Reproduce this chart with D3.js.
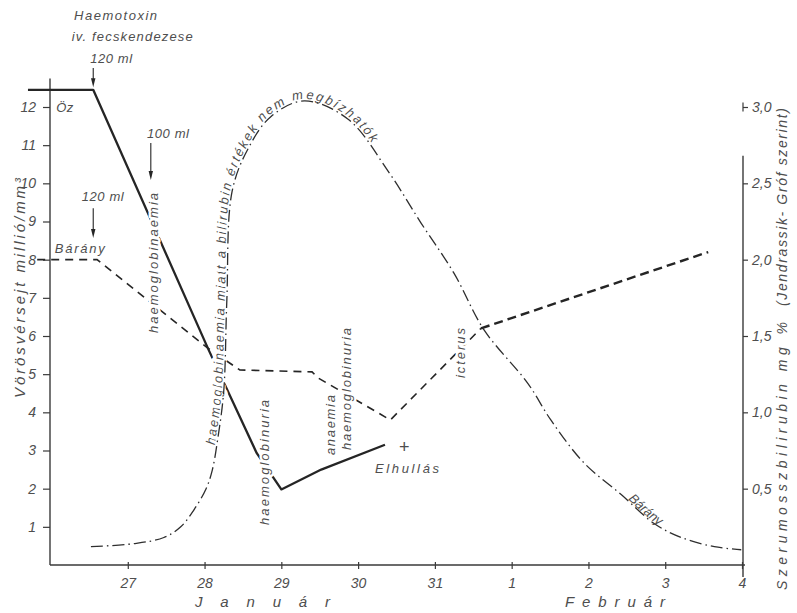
<!DOCTYPE html>
<html>
<head>
<meta charset="utf-8">
<script src="https://cdn.jsdelivr.net/npm/d3@7"></script>
<style>
  html, body { margin: 0; padding: 0; background: #fff; }
  svg { display: block; }
</style>
</head>
<body>
<svg id="chart" width="797" height="613"></svg>
<script>
// Day axis: 27..31 are January days, 32..35 stand for February 1..4
const dayTicks = [27, 28, 29, 30, 31, 32, 33, 34, 35];
const dayTickLabels = ["27", "28", "29", "30", "31", "1", "2", "3", "4"];

// Left axis: red blood cells (million / mm³)
const rbcTicks = [1, 2, 3, 4, 5, 6, 7, 8, 9, 10, 11, 12];

// Right axis: serum total bilirubin (mg %)
const biliTicks = [0.5, 1.0, 1.5, 2.0, 2.5, 3.0];
const biliTickLabels = ["0,5", "1,0", "1,5", "2,0", "2,5", "3,0"];

// Őz (roe deer) red cell count
const ozDays = [25.70, 26.55, 28.05, 28.68, 29.00, 29.52, 30.35];
const ozRbc  = [12.45, 12.45, 5.65, 2.93, 1.98, 2.50, 3.15];

// Bárány (sheep) red cell count
const baranyDays = [25.82, 26.60, 28.03, 28.46, 29.40, 29.48, 30.42, 31.60];
const baranyRbc  = [8.00, 8.00, 5.70, 5.11, 5.06, 4.90, 3.80, 6.20];
const baranyLateDays = [31.60, 34.56];
const baranyLateRbc  = [6.20, 8.20];

// Bárány serum bilirubin (mg %)
const biliDays = [26.52, 27.08, 27.47, 27.69, 27.86, 28.02, 28.10, 28.17, 28.25, 28.29, 28.36,
                  28.57, 28.87, 29.30, 29.87, 30.39, 30.82, 31.25, 31.64, 32.21, 32.51, 32.94,
                  33.43, 33.86, 34.21, 34.64, 34.99];
const biliVals = [0.12, 0.14, 0.18, 0.25, 0.36, 0.50, 0.62, 0.82, 1.14, 1.73, 2.45,
                  2.73, 2.94, 3.04, 2.92, 2.58, 2.24, 1.91, 1.54, 1.19, 0.95, 0.67,
                  0.46, 0.27, 0.18, 0.12, 0.10];

// Haemotoxin injections: day and volume
const injectionDays = [26.55, 27.30, 26.55];
const injectionLabels = ["120 ml", "100 ml", "120 ml"];

const FONT = "'Liberation Sans', Arial, sans-serif";
const INK = "#252525", TXT = "#4e4e4e", AX = "#3a3a3a";

const svg = d3.select("#chart");
const x  = d3.scaleLinear().domain([26, 35]).range([51, 742]);
const yL = d3.scaleLinear().domain([0, 12]).range([565, 107]);
const yR = d3.scaleLinear().domain([0, 3]).range([565, 107]);

function styleText(sel, size) {
  return sel.attr("font-family", FONT).attr("font-style", "italic")
    .attr("font-size", size).attr("fill", TXT);
}

// ---------- axes ----------
const gx = svg.append("g").attr("transform", `translate(0,${yL(0)})`)
  .call(d3.axisBottom(x).tickValues(dayTicks).tickFormat((d, i) => dayTickLabels[i])
    .tickSize(4).tickPadding(9).tickSizeOuter(0));
gx.select(".domain").remove();
gx.selectAll(".tick line").attr("y1", -3).attr("stroke", AX).attr("stroke-width", 1.2);
styleText(gx.selectAll(".tick text"), 14);
gx.attr("font-family", null).attr("font-size", null);
svg.append("line").attr("x1", x(26) - 1).attr("x2", x(35) + 3)
  .attr("y1", yL(0)).attr("y2", yL(0)).attr("stroke", AX).attr("stroke-width", 1.4);

const gyl = svg.append("g").attr("transform", `translate(${x(26) - 1},0)`)
  .call(d3.axisLeft(yL).tickValues(rbcTicks).tickSize(7).tickPadding(7).tickSizeOuter(0));
gyl.select(".domain").remove();
gyl.selectAll(".tick line").attr("stroke", AX).attr("stroke-width", 1.2);
styleText(gyl.selectAll(".tick text"), 14);
gyl.attr("font-family", null).attr("font-size", null);
svg.append("line").attr("x1", x(26) - 1).attr("x2", x(26) - 1)
  .attr("y1", yL(12.75)).attr("y2", yL(0)).attr("stroke", AX).attr("stroke-width", 1.4);

const gyr = svg.append("g").attr("transform", `translate(${x(35) + 1},0)`)
  .call(d3.axisRight(yR).tickValues(biliTicks).tickFormat((d, i) => biliTickLabels[i])
    .tickSize(5).tickPadding(4).tickSizeOuter(0));
gyr.select(".domain").remove();
gyr.selectAll(".tick line").attr("stroke", AX).attr("stroke-width", 1.2);
styleText(gyr.selectAll(".tick text"), 14);
gyr.attr("font-family", null).attr("font-size", null);
svg.append("line").attr("x1", x(35) + 1).attr("x2", x(35) + 1)
  .attr("y1", yR(2.68)).attr("y2", yR(0) + 12).attr("stroke", AX).attr("stroke-width", 1.4);
svg.append("line").attr("x1", x(35) + 1).attr("x2", x(35) + 1)
  .attr("y1", yR(3.03)).attr("y2", yR(2.97)).attr("stroke", AX).attr("stroke-width", 1.2);

// axis titles
styleText(svg.append("text"), 15)
  .attr("transform", `translate(25,398) rotate(-90)`)
  .attr("textLength", 220).attr("lengthAdjust", "spacing")
  .text("Vörösvérsejt  millió/mm³");
styleText(svg.append("text"), 14)
  .attr("transform", `translate(787,590) rotate(-90)`)
  .attr("textLength", 268).attr("lengthAdjust", "spacing")
  .text("Szerumosszbilirubin  mg %");
styleText(svg.append("text"), 14)
  .attr("transform", `translate(787,306) rotate(-90)`)
  .attr("textLength", 198).attr("lengthAdjust", "spacing")
  .text("(Jendrassik- Gróf szerint)");
styleText(svg.append("text"), 15)
  .attr("x", 195).attr("y", 607).attr("textLength", 135).attr("lengthAdjust", "spacing")
  .text("Január");
styleText(svg.append("text"), 15)
  .attr("x", 565).attr("y", 607).attr("textLength", 100).attr("lengthAdjust", "spacing")
  .text("Február");

// ---------- red cell lines ----------
const lineL = d3.line().x(d => x(d[0])).y(d => yL(d[1]));

svg.append("path").datum(d3.zip(ozDays, ozRbc)).attr("d", lineL)
  .attr("fill", "none").attr("stroke", INK).attr("stroke-width", 2.3)
  .attr("stroke-linejoin", "round");

svg.append("path").datum(d3.zip(baranyDays, baranyRbc)).attr("d", lineL)
  .attr("fill", "none").attr("stroke", INK).attr("stroke-width", 1.6)
  .attr("stroke-dasharray", "8,6");

svg.append("path").datum(d3.zip(baranyLateDays, baranyLateRbc)).attr("d", lineL)
  .attr("fill", "none").attr("stroke", INK).attr("stroke-width", 2.4)
  .attr("stroke-dasharray", "9,5");

// ---------- injection arrows ----------
const arrowSpans = [[13.02, 12.52], [11.06, 10.09], [9.35, 8.57]];
const arrowLabelPos = [[26.51, 13.15], [27.25, 11.19], [26.40, 9.54]];
injectionDays.forEach((d, i) => {
  const xp = x(d), y0 = yL(arrowSpans[i][0]), y1 = yL(arrowSpans[i][1]);
  svg.append("line").attr("x1", xp).attr("x2", xp).attr("y1", y0).attr("y2", y1 - 6)
    .attr("stroke", INK).attr("stroke-width", 1.1);
  svg.append("path").attr("d", `M${xp},${y1} L${xp - 2.2},${y1 - 9} L${xp + 2.2},${y1 - 9} Z`)
    .attr("fill", INK);
  styleText(svg.append("text"), 13)
    .attr("x", x(arrowLabelPos[i][0])).attr("y", yL(arrowLabelPos[i][1]))
    .attr("textLength", 42).attr("lengthAdjust", "spacing")
    .text(injectionLabels[i]);
});

// ---------- annotations ----------
function halo(sel, w) {
  return sel.attr("stroke", "#fff").attr("stroke-width", w)
    .attr("paint-order", "stroke").attr("stroke-linejoin", "round");
}

const flatNotes = [
  { t: "Haemotoxin", d: 26.30, v: 14.28, len: 83 },
  { t: "iv. fecskendezese", d: 26.27, v: 13.73, len: 121 },
  { t: "Öz", d: 26.07, v: 11.87, len: 17 },
  { t: "Bárány", d: 26.05, v: 8.17, len: 50 },
  { t: "Elhullás", d: 30.22, v: 2.41, len: 64 }
];
flatNotes.forEach(n => {
  halo(styleText(svg.append("text"), 13), 3)
    .attr("x", x(n.d)).attr("y", yL(n.v))
    .attr("textLength", n.len).attr("lengthAdjust", "spacing").text(n.t);
});

// death mark
styleText(svg.append("text"), 18).attr("font-style", "normal")
  .attr("x", x(30.6)).attr("y", yL(2.93)).attr("text-anchor", "middle").text("+");

const vertNotes = [
  { t: "haemoglobinaemia", d: 27.39, v: 6.08, len: 140 },
  { t: "haemoglobinuria", d: 28.84, v: 1.05, len: 125 },
  { t: "anaemia", d: 29.70, v: 2.88, len: 60 },
  { t: "haemoglobinuria", d: 29.91, v: 3.01, len: 122 },
  { t: "icterus", d: 31.39, v: 4.90, len: 50 }
];
vertNotes.forEach(n => {
  halo(styleText(svg.append("text"), 13), 5)
    .attr("transform", `translate(${x(n.d)},${yL(n.v)}) rotate(-90)`)
    .attr("textLength", n.len).attr("lengthAdjust", "spacing").text(n.t);
});

// ---------- bilirubin curve ----------
const biliLine = d3.line().x(d => x(d[0])).y(d => yR(d[1]))
  .curve(d3.curveCatmullRom.alpha(0.5));
const biliPts = d3.zip(biliDays, biliVals);

const guide = svg.append("path").attr("id", "biliGuide")
  .attr("d", biliLine(biliPts)).attr("fill", "none").attr("stroke", "none");
const gNode = guide.node();
const gLen = gNode.getTotalLength();

// caption running along the rising flank and over the crest
let sOff = 0, eOff = gLen;
for (let s = 0; s < gLen; s += 0.5) {
  if (gNode.getPointAtLength(s).y <= yR(0.78)) { sOff = s; break; }
}
for (let s = sOff; s < gLen; s += 0.5) {
  if (gNode.getPointAtLength(s).x >= x(30.15)) { eOff = s; break; }
}
const caption = "haemoglobinaemia miatt a bilirubin értékek nem megbízhatók";
const capText = halo(styleText(svg.append("text"), 13), 7).attr("dy", -2);
capText.append("textPath").attr("href", "#biliGuide")
  .attr("startOffset", sOff).text(caption);
const natural = capText.node().getComputedTextLength();
const spacing = ((eOff - sOff) - natural) / (caption.length - 1);
capText.attr("letter-spacing", spacing.toFixed(3));

svg.append("path").attr("d", biliLine(biliPts))
  .attr("fill", "none").attr("stroke", "#2e2e2e").attr("stroke-width", 1.3)
  .attr("stroke-dasharray", "12,4,1.5,4");

// Bárány caption on the falling flank
let bOff = 0;
for (let s = 0; s < gLen; s += 0.5) {
  if (gNode.getPointAtLength(s).x >= x(33.5)) { bOff = s; break; }
}
styleText(svg.append("text"), 13).attr("dy", -1)
  .append("textPath").attr("href", "#biliGuide").attr("startOffset", bOff)
  .text("Bárány");
</script>
</body>
</html>
